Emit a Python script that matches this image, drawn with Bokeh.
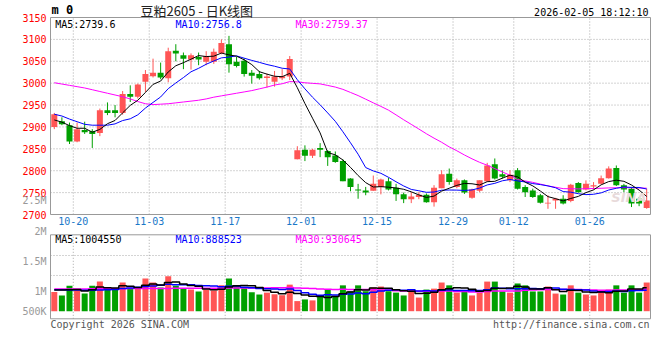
import numpy as np
from bokeh.plotting import figure
from bokeh.models import Range1d, FixedTicker, ColumnDataSource, LinearAxis
from bokeh.core.properties import value
from bokeh.embed import file_html
from bokeh.resources import INLINE

# ---------------- data ----------------
date_tick_idx = [3, 13, 23, 33, 43, 53, 61, 71]
date_tick_labels = ["10-20", "11-03", "11-17", "12-01", "12-15", "12-29", "01-12", "01-26"]
price_ticks = [2700, 2750, 2800, 2850, 2900, 2950, 3000, 3050, 3100, 3150]

opens = [2900, 2913, 2904, 2867, 2893, 2890, 2886, 2938, 2938, 2932,
         2975, 2969, 3003, 3016, 3024, 3011, 3074, 3064, 3054, 3060,
         3049, 3049, 3069, 3089, 3049, 3051, 3024, 3021, 3012, 3003,
         3011, 3015, 2826, 2848, 2834, 2852, 2845, 2835, 2822, 2782,
         2757, 2755, 2754, 2763, 2776, 2761, 2746, 2735, 2740, 2745,
         2728, 2760, 2793, 2763, 2778, 2738, 2754, 2776, 2815, 2792,
         2778, 2801, 2763, 2755, 2744, 2725, 2732, 2736, 2731, 2772,
         2757, 2764, 2770, 2783, 2806, 2767, 2759, 2736, 2715]
highs = [2932, 2922, 2910, 2910, 2912, 2895, 2942, 2956, 2950, 2982,
         2995, 2999, 3030, 3056, 3047, 3081, 3089, 3070, 3068, 3070,
         3073, 3079, 3100, 3108, 3060, 3057, 3030, 3028, 3022, 3028,
         3032, 3062, 2856, 2858, 2850, 2863, 2847, 2844, 2826, 2783,
         2770, 2763, 2789, 2782, 2784, 2770, 2750, 2751, 2751, 2748,
         2767, 2801, 2805, 2782, 2780, 2759, 2778, 2818, 2828, 2801,
         2801, 2806, 2767, 2759, 2747, 2744, 2738, 2744, 2770, 2774,
         2778, 2774, 2789, 2810, 2812, 2770, 2763, 2740, 2759]
lows = [2895, 2904, 2861, 2865, 2884, 2852, 2879, 2927, 2922, 2928,
        2957, 2965, 2980, 3013, 3009, 3002, 3050, 3032, 3031, 3041,
        3041, 3044, 3066, 3024, 3036, 3015, 2999, 3008, 2990, 2992,
        3007, 3007, 2826, 2822, 2829, 2831, 2811, 2818, 2776, 2753,
        2736, 2744, 2754, 2746, 2755, 2731, 2726, 2726, 2735, 2727,
        2718, 2760, 2768, 2760, 2747, 2736, 2751, 2774, 2780, 2782,
        2774, 2757, 2740, 2738, 2725, 2713, 2713, 2723, 2728, 2750,
        2755, 2757, 2769, 2782, 2765, 2751, 2717, 2719, 2713]
closes = [2929, 2906, 2867, 2895, 2888, 2884, 2938, 2932, 2932, 2975,
          2969, 2997, 3021, 3024, 3013, 3073, 3068, 3056, 3064, 3054,
          3062, 3072, 3092, 3043, 3039, 3021, 3017, 3011, 3015, 3015,
          3016, 3055, 2847, 2834, 2848, 2848, 2831, 2820, 2776, 2763,
          2755, 2750, 2770, 2780, 2757, 2746, 2735, 2741, 2745, 2728,
          2761, 2792, 2774, 2778, 2750, 2757, 2778, 2812, 2782, 2786,
          2791, 2759, 2751, 2740, 2727, 2727, 2736, 2725, 2768, 2751,
          2770, 2767, 2783, 2805, 2767, 2757, 2725, 2725, 2732]
volumes = [820000, 670000, 1080000, 960000, 750000, 1080000, 1260000, 930000, 930000, 1220000,
           960000, 1010000, 1390000, 1220000, 1010000, 1490000, 1080000, 990000, 920000, 840000,
           920000, 880000, 1100000, 1390000, 1100000, 1010000, 810000, 710000, 790000, 720000,
           680000, 1130000, 430000, 500000, 460000, 610000, 920000, 620000, 1100000, 850000,
           1100000, 850000, 1010000, 1050000, 850000, 790000, 670000, 880000, 580000, 920000,
           960000, 1220000, 1100000, 790000, 880000, 670000, 790000, 1260000, 1260000, 840000,
           790000, 1180000, 1100000, 840000, 840000, 1050000, 750000, 710000, 1100000, 790000,
           710000, 670000, 840000, 920000, 1100000, 790000, 1100000, 790000, 1220000]

# moving-average values before enough history is visible
ma5_head = [2916, 2911, 2903, 2897]
ma10_head = [2929, 2925, 2918, 2912, 2906, 2904, 2904, 2904, 2907]
ma30_head = [3001, 2998, 2995, 2992, 2989, 2985, 2981, 2977, 2973, 2969,
             2964, 2958, 2953, 2951, 2952, 2953, 2955, 2957, 2959, 2961,
             2964, 2968, 2971, 2974, 2977, 2980, 2983, 2987, 2991]
vma5_head = [900000, 900000, 910000, 920000]
vma10_head = [910000, 910000, 900000, 900000, 890000, 890000, 900000, 910000, 920000]
vma30_head = [950000, 950000, 950000, 950000, 950000, 960000, 960000, 960000, 960000, 960000,
              970000, 970000, 970000, 970000, 970000, 970000, 980000, 980000, 980000, 980000,
              980000, 980000, 980000, 990000, 990000, 990000, 990000, 990000, 990000]

price_ma_text = ["MA5:2739.6", "MA10:2756.8", "MA30:2759.37"]
vol_ma_text = ["MA5:1004550", "MA10:888523", "MA30:930645"]
# volume axis labels as Sina prints them (values where each label sits)
vol_tick_values = [0, 851000, 2128000, 3390000, 4700000]
vol_tick_labels = ["500K", "1M", "1.5M", "2M", "2.5M"]
vol_grid_values = [1520000, 2370000]
title_text = "豆粕2605 - 日K线图"
stamp_text = "2026-02-05 18:12:10"
copyright_text = "Copyright 2026 SINA.COM"
url_text = "http://finance.sina.com.cn"

# ---------------- helpers ----------------
def moving_avg(vals, n, head):
    vals = np.asarray(vals, dtype=float)
    out = np.empty(len(vals))
    out[:len(head)] = head
    for i in range(len(head), len(vals)):
        out[i] = vals[i - n + 1:i + 1].mean()
    return out

def quiet_axis(ax):
    ax.axis_line_color = None
    ax.major_tick_line_color = None
    ax.minor_tick_line_color = None
    ax.major_tick_out = 0
    ax.major_tick_in = 0

N = len(closes)
idx = np.arange(N)
o = np.array(opens, float); c = np.array(closes, float)
h = np.array(highs, float); l = np.array(lows, float)
up = c >= o
RED = "#ff5555"
GREEN = "#00a000"
colors = [RED if u else GREEN for u in up]
body_top = np.maximum(o, c)
body_bot = np.minimum(np.minimum(o, c), body_top - 2.0)

FONT = "DejaVu Sans Mono"
GRID_C = "#a8a8a8"
BORDER_C = "#999999"
W, H = 660, 360

# ---------------- page geometry (pixels) ----------------
PANE_L, PANE_R = 50, 650          # both panes
P_TOP, P_BOT = 17, 214            # price pane
V_TOP, V_BOT, V_BASE = 234.3, 318.3, 310.7   # volume pane, zero-volume line
SLOT = (PANE_R - PANE_L) / N      # pixels per candle
PPX = (price_ticks[-1] - price_ticks[0]) / (P_BOT - P_TOP)   # price per pixel
VPX = 1e6 / 23.5                  # shares per pixel

x_lo, x_hi = -0.5, N - 0.5
xr = Range1d(x_lo - PANE_L / SLOT, x_hi + (W - PANE_R) / SLOT)
yr = Range1d(price_ticks[0] - (H - P_BOT) * PPX, price_ticks[-1] + P_TOP * PPX)
vol_lo = (V_BASE - V_BOT) * VPX
vol_hi = (V_BASE - V_TOP) * VPX

p = figure(width=W, height=H, x_range=xr, y_range=yr, output_backend="svg",
           toolbar_location=None, x_axis_type=None, y_axis_type=None,
           min_border_left=0, min_border_right=0, min_border_top=0, min_border_bottom=0)
p.outline_line_color = None
p.background_fill_color = "white"
p.extra_y_ranges = {"vol": Range1d((V_BASE - H) * VPX, V_BASE * VPX),
                    "py": Range1d(H, 0)}
p.extra_x_ranges = {"px": Range1d(0, W)}

tick_pos = [i - 0.5 for i in date_tick_idx]

# ---- grids ----
inner_price = price_ticks[1:-1]
p.segment(x0=[x_lo] * len(inner_price), x1=[x_hi] * len(inner_price), y0=inner_price, y1=inner_price,
          line_color=GRID_C, line_dash="1 2", line_width=1)
p.segment(x0=tick_pos, x1=tick_pos, y0=[price_ticks[0]] * len(tick_pos), y1=[price_ticks[-1]] * len(tick_pos),
          line_color=GRID_C, line_dash="1 2", line_width=1)
p.segment(x0=[x_lo] * len(vol_grid_values), x1=[x_hi] * len(vol_grid_values),
          y0=vol_grid_values, y1=vol_grid_values, y_range_name="vol",
          line_color=GRID_C, line_dash="1 2", line_width=1)
p.segment(x0=tick_pos, x1=tick_pos, y0=[vol_lo] * len(tick_pos), y1=[vol_hi] * len(tick_pos),
          y_range_name="vol", line_color=GRID_C, line_dash="1 2", line_width=1)

# ---- candles ----
src = ColumnDataSource(dict(x=idx, h=h, l=l, top=body_top, bot=body_bot, color=colors,
                            v=np.array(volumes, float)))
p.segment(x0="x", y0="l", x1="x", y1="h", color="color", line_width=1, source=src)
p.vbar(x="x", top="top", bottom="bot", width=0.79, fill_color="color", line_color=None, source=src)

ma5 = moving_avg(closes, 5, ma5_head)
ma10 = moving_avg(closes, 10, ma10_head)
ma30 = moving_avg(closes, 30, ma30_head)
p.line(idx, ma30, color="#ff00ff", line_width=1)
p.line(idx, ma10, color="#0000ff", line_width=1)
p.line(idx, ma5, color="#000000", line_width=1)

# ---- volume ----
p.vbar(x="x", top="v", bottom=0, width=0.79, fill_color="color", line_color=None,
       source=src, y_range_name="vol")
vma5 = moving_avg(volumes, 5, vma5_head)
vma10 = moving_avg(volumes, 10, vma10_head)
vma30 = moving_avg(volumes, 30, vma30_head)
p.step(idx, vma30, mode="center", color="#ff00ff", line_width=1.5, y_range_name="vol")
p.step(idx, vma10, mode="center", color="#0000ff", line_width=1.5, y_range_name="vol")
p.step(idx, vma5, mode="center", color="#000000", line_width=1.5, y_range_name="vol")

# ---- pane borders ----
p.quad(left=[x_lo], right=[x_hi], bottom=[price_ticks[0]], top=[price_ticks[-1]],
       fill_color=None, line_color=BORDER_C, line_width=1)
p.quad(left=[x_lo], right=[x_hi], bottom=[vol_lo], top=[vol_hi], y_range_name="vol",
       fill_color=None, line_color=BORDER_C, line_width=1)

# ---- axes (fixed at the pane edges) ----
price_axis = LinearAxis(fixed_location=x_lo, ticker=FixedTicker(ticks=price_ticks),
                        major_label_overrides={t: str(t) for t in price_ticks},
                        major_label_text_color="#ff0000", major_label_text_font=FONT,
                        major_label_text_font_size="10px", major_label_standoff=4)
quiet_axis(price_axis)
p.add_layout(price_axis, "left")

vol_axis = LinearAxis(y_range_name="vol", fixed_location=x_lo, ticker=FixedTicker(ticks=vol_tick_values),
                      major_label_overrides={t: s for t, s in zip(vol_tick_values, vol_tick_labels)},
                      major_label_text_color="#999999", major_label_text_font=FONT,
                      major_label_text_font_size="10px", major_label_standoff=4)
quiet_axis(vol_axis)
p.add_layout(vol_axis, "left")

date_axis = LinearAxis(fixed_location=price_ticks[0], ticker=FixedTicker(ticks=tick_pos),
                       major_label_overrides={t: s for t, s in zip(tick_pos, date_tick_labels)},
                       major_label_text_color="#1a78c8", major_label_text_font=FONT,
                       major_label_text_font_size="10px", major_label_standoff=2)
quiet_axis(date_axis)
p.add_layout(date_axis, "below")

# ---- texts (page furniture, pixel positions) ----
def ptext(x, y, t, color, size="10px", align="left", font=FONT, style="normal"):
    p.text(x=[x], y=[y], text=[t], x_range_name="px", y_range_name="py",
           text_font=value(font), text_font_size=size, text_font_style=style,
           text_color=color, text_align=align, text_baseline="middle")

ptext(51, 9, "m 0", "#000000", size="12px", style="bold")
ptext(140, 10, title_text, "#222222", size="13px", font="Noto Sans CJK SC")
ptext(648, 11.5, stamp_text, "#000000", align="right")
for txt, xpx, col in zip(price_ma_text, [54.7, 175, 295], ["#000000", "#0000ff", "#ff00ff"]):
    ptext(xpx, 24, txt, col)
for txt, xpx, col in zip(vol_ma_text, [54.7, 175, 295], ["#000000", "#0000ff", "#ff00ff"]):
    ptext(xpx, 238.7, txt, col)
ptext(646, 197, "SINA", "#e8dada", size="13px", align="right", font="DejaVu Sans", style="bold italic")
ptext(50, 323.7, copyright_text, "#555555")
ptext(649, 323.7, url_text, "#555555", align="right")

open("out.html", "w").write(file_html(p, INLINE))
